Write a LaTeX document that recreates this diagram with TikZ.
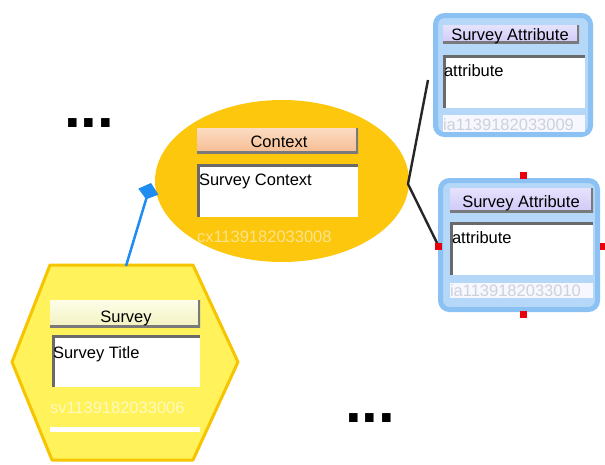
\documentclass[tikz,border=0pt]{standalone}
\usepackage{fontspec}
\setmainfont{Liberation Sans}
\usetikzlibrary{shapes.geometric,arrows.meta}

\definecolor{ctxgold}{HTML}{FDC70E}
\definecolor{hexfill}{HTML}{FFF25A}
\definecolor{hexline}{HTML}{F7C400}
\definecolor{framblue}{HTML}{8CC2F3}
\definecolor{bandblue}{HTML}{B6D8F8}
\definecolor{linkblue}{HTML}{1E8CF0}
\definecolor{insetgray}{HTML}{6A6A6A}
\definecolor{edgegray}{HTML}{7A7A7A}
\definecolor{idgold}{HTML}{FBE38C}
\definecolor{idpale}{HTML}{FFFAC0}
\definecolor{idgray}{HTML}{CDD2DA}
\definecolor{selred}{HTML}{E8000C}
\definecolor{peachtop}{HTML}{FCDCC2}
\definecolor{peachbot}{HTML}{F5BC92}
\definecolor{lavtop}{HTML}{E6E2FD}
\definecolor{lavbot}{HTML}{D0C9F8}
\definecolor{creamtop}{HTML}{FDFDEA}
\definecolor{creambot}{HTML}{F2F2BE}

\newcommand{\labelfont}{\fontsize{16.5}{18}\selectfont}

\begin{document}
\begin{tikzpicture}[x=1pt,y=-1pt,
  every node/.style={inner sep=0pt, outer sep=0pt, font=\labelfont},
  % raised title bar with a dark right and bottom edge
  titlebar/.style={rectangle, text=black!85,
    path picture={\draw[line width=5pt, edgegray]
      (path picture bounding box.south west) -- (path picture bounding box.south east)
      -- (path picture bounding box.north east);}},
  ctxbar/.style={titlebar, top color=peachtop, bottom color=peachbot},
  svbar/.style={titlebar, top color=creamtop, bottom color=creambot},
  attrbar/.style={titlebar, top color=lavtop, bottom color=lavbot},
  % sunken text field with a dark top and left edge
  field/.style={rectangle, fill=white,
    path picture={\draw[line width=6pt, insetgray]
      (path picture bounding box.south west) -- (path picture bounding box.north west)
      -- (path picture bounding box.north east);}},
  idfield/.style={rectangle, fill=white!92!blue!40!white},
  entry/.style={anchor=base west, text=black},
  idtext/.style={anchor=base west},
  frame/.style={rectangle, rounded corners=9pt, draw=framblue, line width=5pt, fill=bandblue},
  handle/.style={rectangle, fill=selred, minimum size=7pt},
  conn/.style={line width=2.4pt, black!85},
  assoc/.style={line width=2.5pt, linkblue,
    -{Kite[length=17pt,width=21pt,inset=8pt]}},
  more/.style={anchor=base west, font=\fontsize{60}{60}\selectfont\bfseries}
]
\useasboundingbox (0,0) rectangle (605,464);
\fill[white] (0,0) rectangle (605,464);

% ---- Context (ellipse) ----
\node[ellipse, fill=ctxgold, minimum width=254pt, minimum height=162pt] (ctx) at (282,181) {};
\node[ctxbar, minimum width=161pt, minimum height=25pt] (ctxhead) at (277.5,140.5) {};
\node[anchor=base] (ctxtitle) at (279,147) {Context};
\node[field, minimum width=161pt, minimum height=53pt] (ctxfield) at (277.5,190.5) {};
\node[entry] (ctxtext) at (199,185) {Survey Context};
\node[idtext, text=idgold] (ctxid) at (197,242) {cx1139182033008};

% ---- Survey (hexagon) ----
\filldraw[fill=hexfill, draw=hexline, line width=3pt, line join=round]
  (50,265) -- (193,265) -- (238,362) -- (193,460) -- (52,460) -- (12,362) -- cycle;
\coordinate (svtop) at (126,266);
\node[svbar, minimum width=150pt, minimum height=27pt] (svhead) at (125,313.5) {};
\node[anchor=base] (svtitle) at (126,322) {Survey};
\node[field, minimum width=148pt, minimum height=52pt] (svfield) at (126,361) {};
\node[entry] (svtext) at (53,358) {Survey Title};
\node[idtext, text=idpale] (svid) at (50,413) {sv1139182033006};
\node[rectangle, fill=white, minimum width=150pt, minimum height=5pt] (svband) at (125,429.5) {};

% ---- Survey Attribute (upper) ----
\node[frame, minimum width=155pt, minimum height=119pt] (attr1) at (513,75) {};
\node[attrbar, minimum width=136pt, minimum height=18pt] (attr1head) at (511,34) {};
\node[anchor=base] (attr1title) at (510,40.5) {Survey Attribute};
\node[field, minimum width=142pt, minimum height=53pt] (attr1field) at (514,81.5) {};
\node[entry] (attr1text) at (444,76) {attribute};
\node[idfield, minimum width=142pt, minimum height=17pt] (attr1idbox) at (514,123.5) {};
\node[idtext, text=idgray] (attr1id) at (443,130) {ia1139182033009};

% ---- Survey Attribute (lower, selected) ----
\node[frame, minimum width=157pt, minimum height=129pt] (attr2) at (519,245) {};
\node[attrbar, minimum width=143pt, minimum height=24pt] (attr2head) at (521.5,200) {};
\node[anchor=base] (attr2title) at (521,207) {Survey Attribute};
\node[field, minimum width=143pt, minimum height=53pt] (attr2field) at (521.5,248.5) {};
\node[entry] (attr2text) at (452,243) {attribute};
\node[idfield, minimum width=143pt, minimum height=15pt] (attr2idbox) at (521.5,290.5) {};
\node[idtext, text=idgray] (attr2id) at (450,296) {ia1139182033010};

% ---- connectors ----
\coordinate (ctxjoin) at (408,184);
\coordinate (attr1pin) at (428,80);
\coordinate (ctxpin) at (151,183);
\node[handle] (selW) at (438.5,246) {};
\draw[conn, line join=round] (attr1pin) -- (ctxjoin) -- (selW.center);
\draw[assoc] (svtop) -- (ctxpin);

% selection handles around the lower attribute
\node[handle] (selW2) at (438.5,246) {};
\node[handle] (selN) at (523,175) {};
\node[handle] (selS) at (523,314) {};
\node[handle] (selE) at (603,246) {};

% ---- ellipses marking omitted parts ----
\node[more] (moreA) at (64,127) {...};
\node[more] (moreB) at (345,422) {...};
\end{tikzpicture}
\end{document}
